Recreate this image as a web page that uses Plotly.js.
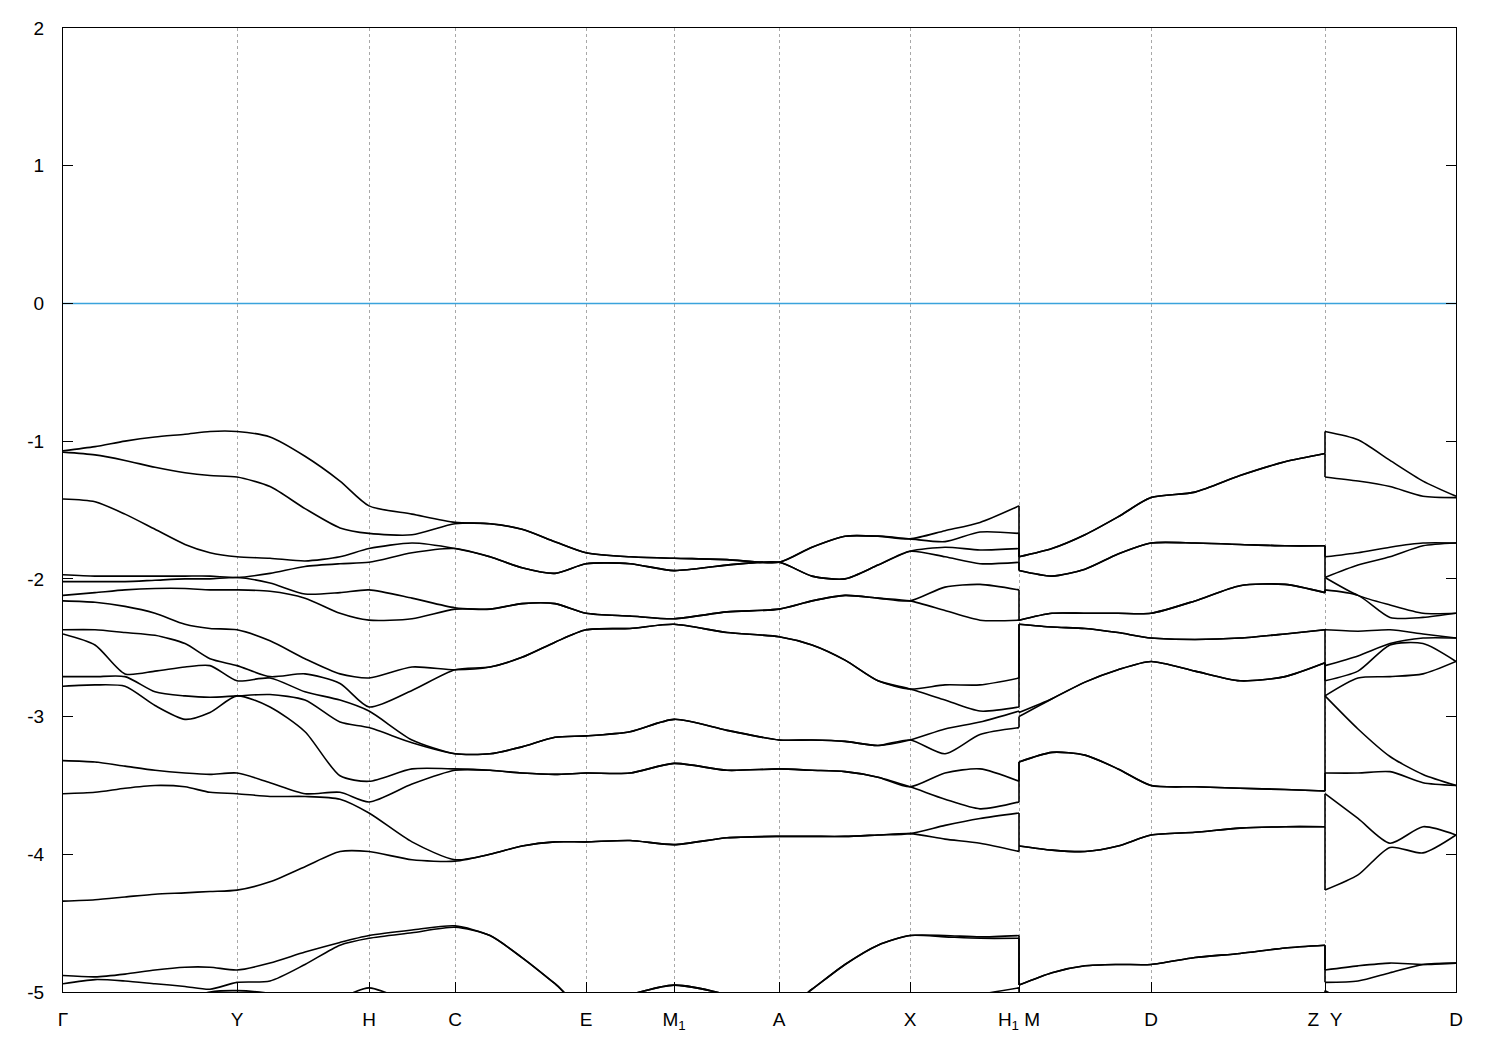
<!DOCTYPE html>
<html>
<head>
<meta charset="utf-8">
<script src="https://cdn.plot.ly/plotly-3.0.1.min.js"></script>
<style>
  html, body { margin: 0; padding: 0; background: #ffffff; }
  #chart { width: 1500px; height: 1050px; }
</style>
</head>
<body>
<div id="chart"></div>
<script>
// k-path coordinate of each sampled point (arbitrary path-length units)
const kpath = [0, 0.32, 0.62, 0.92, 1.22, 1.47, 1.74, 2.07, 2.42, 2.77, 3.06, 3.49, 3.92, 4.27, 4.59, 4.92, 5.23, 5.67, 6.11, 6.64, 7.16, 7.49, 7.82, 8.15, 8.47, 8.82, 9.17, 9.56, 9.56, 9.89, 10.22, 10.55, 10.88, 11.32, 11.77, 12.22, 12.62, 12.62, 12.95, 13.27, 13.60, 13.93];

// continuous pieces of the path (index ranges); the path jumps at H1|M and Z|Y
const pathPieces = [[0, 27], [28, 36], [37, 41]];

// high-symmetry points
const tickPositions = [0, 1.74, 3.06, 3.92, 5.23, 6.11, 7.16, 8.47, 9.56, 10.88, 12.62, 13.93];
const tickLabels = ['Γ', 'Y', 'H', 'C', 'E', 'M<sub>1</sub>', 'A', 'X', 'H<sub>1</sub>\u00a0M', 'D', 'Z\u00a0\u00a0Y', 'D'];

// energy axis
const energyTicks = [-5, -4, -3, -2, -1, 0, 1, 2];
const energyLabels = ['-5', '-4', '-3', '-2', '-1', '0', '1', '2'];

// Fermi level
const fermiLevel = [0, 0];

// band energies (eV), one value per k-path point
const band01 = [-1.07, -1.04, -1.00, -0.97, -0.95, -0.93, -0.93, -0.97, -1.11, -1.29, -1.47, -1.53, -1.59, -1.60, -1.64, -1.73, -1.81, -1.84, -1.85, -1.86, -1.88, -1.77, -1.69, -1.69, -1.71, -1.65, -1.59, -1.47, -1.84, -1.78, -1.68, -1.55, -1.41, -1.37, -1.25, -1.15, -1.09, -0.93, -0.99, -1.14, -1.29, -1.40];
const band02 = [-1.08, -1.10, -1.14, -1.19, -1.23, -1.25, -1.26, -1.33, -1.49, -1.63, -1.67, -1.68, -1.60, -1.60, -1.64, -1.73, -1.81, -1.84, -1.85, -1.86, -1.88, -1.77, -1.69, -1.69, -1.71, -1.73, -1.66, -1.67, -1.84, -1.78, -1.68, -1.55, -1.41, -1.37, -1.25, -1.15, -1.09, -1.26, -1.29, -1.33, -1.40, -1.41];
const band03 = [-1.42, -1.44, -1.53, -1.64, -1.75, -1.81, -1.84, -1.85, -1.87, -1.84, -1.78, -1.74, -1.78, -1.84, -1.92, -1.96, -1.89, -1.89, -1.94, -1.90, -1.88, -1.98, -2.00, -1.90, -1.80, -1.77, -1.79, -1.78, -1.94, -1.98, -1.93, -1.82, -1.74, -1.74, -1.75, -1.76, -1.76, -1.84, -1.81, -1.77, -1.74, -1.74];
const band04 = [-1.97, -1.98, -1.98, -1.98, -1.98, -1.98, -1.99, -1.96, -1.91, -1.89, -1.88, -1.81, -1.78, -1.84, -1.92, -1.96, -1.89, -1.89, -1.94, -1.90, -1.88, -1.98, -2.00, -1.90, -1.80, -1.84, -1.89, -1.88, -1.94, -1.98, -1.93, -1.82, -1.74, -1.74, -1.75, -1.76, -1.76, -1.99, -1.90, -1.84, -1.76, -1.74];
const band05 = [-2.02, -2.02, -2.02, -2.01, -2.00, -2.00, -1.99, -2.03, -2.11, -2.10, -2.08, -2.14, -2.21, -2.22, -2.18, -2.18, -2.25, -2.27, -2.29, -2.24, -2.22, -2.16, -2.12, -2.14, -2.16, -2.06, -2.04, -2.08, -2.30, -2.25, -2.25, -2.25, -2.25, -2.16, -2.05, -2.04, -2.10, -1.99, -2.12, -2.19, -2.25, -2.25];
const band06 = [-2.12, -2.10, -2.08, -2.07, -2.07, -2.08, -2.08, -2.09, -2.14, -2.25, -2.30, -2.29, -2.22, -2.22, -2.18, -2.18, -2.25, -2.27, -2.29, -2.24, -2.22, -2.16, -2.12, -2.14, -2.16, -2.23, -2.30, -2.30, -2.30, -2.25, -2.25, -2.25, -2.25, -2.16, -2.05, -2.04, -2.10, -2.08, -2.12, -2.28, -2.28, -2.25];
const band07 = [-2.16, -2.17, -2.20, -2.25, -2.33, -2.36, -2.37, -2.45, -2.58, -2.69, -2.72, -2.64, -2.66, -2.64, -2.57, -2.46, -2.37, -2.36, -2.33, -2.39, -2.42, -2.48, -2.59, -2.74, -2.80, -2.77, -2.77, -2.72, -2.33, -2.35, -2.36, -2.39, -2.43, -2.44, -2.43, -2.40, -2.37, -2.37, -2.38, -2.37, -2.40, -2.43];
const band08 = [-2.37, -2.37, -2.39, -2.41, -2.47, -2.58, -2.63, -2.71, -2.69, -2.76, -2.93, -2.81, -2.66, -2.64, -2.57, -2.46, -2.37, -2.36, -2.33, -2.39, -2.42, -2.48, -2.59, -2.74, -2.80, -2.88, -2.96, -2.93, -2.33, -2.35, -2.36, -2.39, -2.43, -2.44, -2.43, -2.40, -2.37, -2.63, -2.56, -2.47, -2.43, -2.43];
const band09 = [-2.40, -2.48, -2.69, -2.67, -2.64, -2.63, -2.74, -2.72, -2.82, -2.88, -2.96, -3.17, -3.27, -3.27, -3.22, -3.15, -3.14, -3.11, -3.02, -3.10, -3.17, -3.17, -3.18, -3.21, -3.17, -3.09, -3.04, -2.96, -2.97, -2.87, -2.75, -2.66, -2.60, -2.67, -2.74, -2.71, -2.61, -2.74, -2.67, -2.48, -2.47, -2.60];
const band10 = [-2.71, -2.71, -2.71, -2.82, -2.85, -2.86, -2.85, -2.84, -2.88, -3.04, -3.08, -3.19, -3.27, -3.27, -3.22, -3.15, -3.14, -3.11, -3.02, -3.10, -3.17, -3.17, -3.18, -3.21, -3.17, -3.27, -3.13, -3.08, -3.00, -2.87, -2.75, -2.66, -2.60, -2.67, -2.74, -2.71, -2.61, -2.85, -2.72, -2.71, -2.69, -2.60];
const band11 = [-2.78, -2.77, -2.78, -2.92, -3.02, -2.97, -2.85, -2.93, -3.11, -3.43, -3.47, -3.38, -3.38, -3.39, -3.41, -3.42, -3.41, -3.41, -3.34, -3.39, -3.38, -3.39, -3.40, -3.44, -3.51, -3.41, -3.38, -3.47, -3.33, -3.26, -3.28, -3.38, -3.50, -3.51, -3.52, -3.53, -3.54, -2.85, -3.09, -3.29, -3.42, -3.50];
const band12 = [-3.32, -3.33, -3.36, -3.39, -3.41, -3.42, -3.41, -3.48, -3.56, -3.55, -3.62, -3.49, -3.39, -3.39, -3.41, -3.42, -3.41, -3.41, -3.34, -3.39, -3.38, -3.39, -3.40, -3.44, -3.51, -3.60, -3.67, -3.62, -3.33, -3.26, -3.28, -3.38, -3.50, -3.51, -3.52, -3.53, -3.54, -3.41, -3.41, -3.40, -3.48, -3.50];
const band13 = [-3.56, -3.55, -3.52, -3.50, -3.51, -3.55, -3.56, -3.58, -3.58, -3.60, -3.70, -3.91, -4.04, -4.00, -3.94, -3.91, -3.91, -3.90, -3.93, -3.88, -3.87, -3.87, -3.87, -3.86, -3.85, -3.79, -3.74, -3.70, -3.94, -3.97, -3.98, -3.94, -3.86, -3.84, -3.81, -3.80, -3.80, -3.56, -3.74, -3.92, -3.80, -3.86];
const band14 = [-4.34, -4.33, -4.31, -4.29, -4.28, -4.27, -4.26, -4.20, -4.09, -3.98, -3.98, -4.04, -4.05, -4.00, -3.94, -3.91, -3.91, -3.90, -3.93, -3.88, -3.87, -3.87, -3.87, -3.86, -3.85, -3.89, -3.92, -3.98, -3.94, -3.97, -3.98, -3.94, -3.86, -3.84, -3.81, -3.80, -3.80, -4.26, -4.15, -3.95, -3.99, -3.86];
const band15 = [-4.88, -4.89, -4.87, -4.84, -4.82, -4.82, -4.84, -4.79, -4.71, -4.64, -4.59, -4.55, -4.52, -4.59, -4.75, -4.94, -5.13, -5.02, -4.95, -5.02, -5.15, -4.98, -4.80, -4.66, -4.59, -4.59, -4.60, -4.59, -4.95, -4.86, -4.81, -4.80, -4.80, -4.75, -4.72, -4.68, -4.66, -4.84, -4.81, -4.79, -4.80, -4.79];
const band16 = [-4.94, -4.91, -4.92, -4.94, -4.96, -4.98, -4.93, -4.92, -4.80, -4.66, -4.61, -4.57, -4.53, -4.59, -4.75, -4.94, -5.13, -5.02, -4.95, -5.02, -5.15, -4.98, -4.80, -4.66, -4.59, -4.60, -4.61, -4.61, -4.95, -4.86, -4.81, -4.80, -4.80, -4.75, -4.72, -4.68, -4.66, -4.93, -4.92, -4.86, -4.80, -4.79];
const band17 = [-5.15, -5.15, -5.12, -5.10, -5.05, -5.00, -4.99, -5.01, -5.06, -5.04, -4.97, -5.08, -5.20, -5.20, -5.20, -5.20, -5.20, -5.20, -5.20, -5.20, -5.20, -5.20, -5.20, -5.20, -5.20, -5.10, -5.02, -4.97, -5.20, -5.20, -5.20, -5.20, -5.20, -5.20, -5.20, -5.20, -5.20, -4.99, -5.10, -5.10, -5.10, -5.10];

const bands = [band01, band02, band03, band04, band05, band06, band07, band08, band09, band10, band11, band12, band13, band14, band15, band16, band17];

const FONT = 'Liberation Sans, Arial, Helvetica, sans-serif';
const BAND_LINE = { color: '#000000', width: 1.6 };

const traces = [{
  x: [kpath[0], kpath[kpath.length - 1]],
  y: fermiLevel,
  type: 'scatter',
  mode: 'lines',
  line: { color: '#3aa3dc', width: 1.4 },
  hoverinfo: 'skip'
}];

bands.forEach(function (b) {
  // smooth pieces of each band along the continuous parts of the path
  pathPieces.forEach(function (p) {
    traces.push({
      x: kpath.slice(p[0], p[1] + 1),
      y: b.slice(p[0], p[1] + 1),
      type: 'scatter',
      mode: 'lines',
      line: Object.assign({ shape: 'spline', smoothing: 0.7 }, BAND_LINE),
      hoverinfo: 'skip'
    });
  });
  // straight connectors across the path jumps (drawn as vertical lines)
  for (let i = 0; i < pathPieces.length - 1; i++) {
    const a = pathPieces[i][1], c = pathPieces[i + 1][0];
    traces.push({
      x: [kpath[a], kpath[c]],
      y: [b[a], b[c]],
      type: 'scatter',
      mode: 'lines',
      line: BAND_LINE,
      hoverinfo: 'skip'
    });
  }
});

const layout = {
  width: 1500,
  height: 1050,
  margin: { l: 63, r: 44, t: 28, b: 58 },
  paper_bgcolor: '#ffffff',
  plot_bgcolor: '#ffffff',
  showlegend: false,
  font: { family: FONT, size: 19, color: '#000000' },
  xaxis: {
    range: [kpath[0], kpath[kpath.length - 1]],
    tickmode: 'array',
    tickvals: tickPositions,
    ticktext: tickLabels,
    ticks: 'inside',
    ticklen: 10,
    tickwidth: 1,
    tickcolor: '#000000',
    showline: true,
    mirror: true,
    linecolor: '#000000',
    linewidth: 1,
    showgrid: true,
    gridcolor: '#a8a8a8',
    griddash: 'dot',
    gridwidth: 1,
    zeroline: false,
    ticklabelstandoff: 10,
    tickfont: { family: FONT, size: 19, color: '#000000' }
  },
  yaxis: {
    range: [-5, 2],
    tickmode: 'array',
    tickvals: energyTicks,
    ticktext: energyLabels,
    ticks: 'inside',
    ticklen: 10,
    tickwidth: 1,
    tickcolor: '#000000',
    showline: true,
    mirror: 'ticks',
    linecolor: '#000000',
    linewidth: 1,
    showgrid: false,
    zeroline: false,
    ticklabelstandoff: 14,
    tickfont: { family: FONT, size: 19, color: '#000000' }
  }
};

Plotly.newPlot('chart', traces, layout, { staticPlot: true, displayModeBar: false });
</script>
</body>
</html>
